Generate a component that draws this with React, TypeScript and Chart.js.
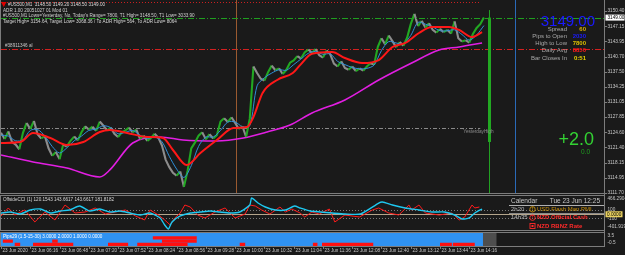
import React, { useEffect, useRef } from "react";
import { Chart, registerables } from "chart.js";

Chart.register(...registerables);

// ---------------- data ----------------
// time axis: 1 unit = one M1 bar, bar 0 = 23 Jun 05:44
const X_MAX = 659.3;
const timeTickBars = [0, 32, 64, 96, 128, 160, 192, 224, 256, 288, 320, 352, 384, 416, 448, 480, 512];
const timeLabels = [
  "23 Jun 2020", "23 Jun 06:16", "23 Jun 06:48", "23 Jun 07:20", "23 Jun 07:52", "23 Jun 08:24",
  "23 Jun 08:56", "23 Jun 09:28", "23 Jun 10:00", "23 Jun 10:32", "23 Jun 11:04", "23 Jun 11:36",
  "23 Jun 12:08", "23 Jun 12:40", "23 Jun 13:12", "23 Jun 13:44", "23 Jun 14:16",
];

// price closes, one value every 4 bars
const SAMPLE_STEP = 4;
const closePrices = [
  3124.5, 3123.2, 3124.8, 3122.6, 3122.0, 3121.0, 3124.5, 3126.6, 3125.3, 3127.0,
  3124.2, 3123.3, 3123.8, 3121.2, 3119.6, 3120.4, 3118.9, 3122.0, 3121.6, 3122.8,
  3123.7, 3122.9, 3124.6, 3125.9, 3125.2, 3125.8, 3124.9, 3126.9, 3126.0, 3125.0,
  3125.6, 3124.3, 3123.6, 3124.6, 3125.0, 3125.6, 3124.6, 3125.2, 3123.2, 3123.9,
  3122.8, 3123.4, 3124.3, 3123.5, 3121.8, 3118.8, 3117.2, 3116.0, 3115.4, 3116.3,
  3113.0, 3116.4, 3121.2, 3122.4, 3123.9, 3124.6, 3123.1, 3124.2, 3123.3, 3124.0,
  3126.9, 3127.6, 3126.8, 3127.8, 3126.6, 3125.3, 3125.9, 3123.6, 3127.5, 3138.6,
  3137.2, 3136.0, 3135.6, 3137.4, 3138.8, 3137.8, 3138.2, 3137.0, 3137.9, 3139.4,
  3139.9, 3140.8, 3140.3, 3141.6, 3142.2, 3141.5, 3142.3, 3141.0, 3140.5, 3142.0,
  3141.2, 3139.2, 3138.6, 3139.7, 3138.3, 3137.9, 3138.6, 3137.6, 3138.2, 3137.7,
  3138.6, 3139.3, 3139.0, 3142.8, 3144.6, 3143.3, 3145.2, 3144.0, 3142.7, 3143.8,
  3143.0, 3144.7, 3147.6, 3149.8, 3147.2, 3148.3, 3146.9, 3147.8, 3146.4, 3145.8,
  3146.6, 3145.9, 3146.4, 3145.6, 3148.2, 3144.6, 3143.9, 3144.2, 3143.7, 3145.5,
  3146.8, 3147.6, 3149.0,
];

// fast MA (blue), one value every 8 bars
const FAST_STEP = 8;
const fastMA = [
  3124.0, 3123.8, 3122.8, 3123.0, 3125.0, 3125.2, 3123.8, 3121.6, 3120.2, 3121.3,
  3122.8, 3123.8, 3125.0, 3125.3, 3126.0, 3125.6, 3124.3, 3124.6, 3125.0, 3124.0,
  3123.3, 3123.6, 3122.6, 3119.5, 3116.8, 3115.0, 3117.5, 3121.6, 3123.6, 3123.6,
  3125.0, 3126.8, 3126.8, 3125.8, 3126.0, 3134.5, 3136.2, 3137.2, 3137.9, 3137.8,
  3139.0, 3140.2, 3141.4, 3141.8, 3141.2, 3141.3, 3139.7, 3139.0, 3138.4, 3138.1,
  3138.2, 3138.9, 3142.0, 3143.9, 3143.6, 3143.4, 3145.2, 3148.0, 3147.6, 3147.0,
  3146.2, 3146.2, 3146.4, 3145.4, 3144.2, 3145.3, 3147.3,
];

// slow MA (red)
const slowMABars = [0, 21, 35, 54, 72, 90, 108, 119, 138, 160, 177, 188, 203, 218, 236, 254, 269, 276, 286, 302,
  319, 327, 340, 362, 376, 395, 413, 428, 442, 457, 471, 490, 501, 515, 526];
const slowMA = [3122.34, 3122.55, 3124.46, 3123.40, 3121.91, 3122.55, 3124.67, 3125.10, 3124.46, 3123.61,
  3123.40, 3120.85, 3117.66, 3120.21, 3122.97, 3125.52, 3125.74, 3127.86, 3132.97, 3135.73,
  3137.22, 3138.90, 3141.30, 3141.68, 3140.41, 3139.34, 3139.98, 3142.75, 3143.60, 3145.72,
  3147.00, 3147.00, 3146.36, 3144.87, 3145.93];

// long MA (magenta)
const longMABars = [0, 35, 72, 108, 119, 144, 174, 199, 236, 265, 291, 316, 340, 376, 413, 449, 479, 501, 526];
const longMA = [3119.79, 3118.30, 3117.02, 3115.11, 3116.60, 3122.34, 3123.61, 3122.97, 3122.76, 3123.40,
  3124.67, 3126.16, 3128.71, 3131.48, 3135.73, 3139.34, 3142.11, 3142.75, 3143.60];

const priceTicks = [3150.40, 3147.15, 3143.95, 3140.70, 3137.50, 3134.25, 3131.05, 3127.85, 3124.60,
  3121.40, 3118.15, 3114.95, 3111.70];
const PRICE_MIN = 3111.70;
const PRICE_MAX = 3152.74;
const currentPrice = 3149.00;
const levelTargetTop = 3152.35;
const levelRed = 3142.32;
const yesterdayHigh = 3125.52;
const levelsEndBar = 524;
const sessionSepBar = 257;
const nowLineBar = 562;
const dayCandleBar = 534;
const dayOpen = 3122.55;
const dayClose = 3149.00;
const dayHigh = 3150.60;
const dayLow = 3100.0;

const headerLines = [
  "#US500,M1  3148.50 3149.20 3148.50 3149.00",
  "ADR 1.00 20051027 01 Mod 01",
  "#US500,M1 Lows=Yesterday, No, Today's Range= 7800, T1 High= 3148.50, T1 Low= 3033.90",
  "Target High= 3154.64, Target Low= 3068.36 / To ADR High= 564, To ADR Low= 8064",
];
const objectLabel = "#38911346 al";
const bigPrice = "3149.00";
const infoLabels = ["Spread", "Pips to Open", "High to Low", "Daily Avg", "Bar Closes In"];
const infoValues = ["60", "2030", "7800", "8850", "0:51"];
const changeBig = "+2.0";
const changeSmall = "0.0";

// CCI sub window
const CCI_MIN = -401.9194;
const CCI_MAX = 466.2904;
const cciLevels = [100, 0, -100];
const cciTitle = "OffsideCCI (1) 120.1543 143.6617 143.6617 181.8182";
const cciCyanBars = [0, 10, 21, 32, 43, 54, 65, 75, 86, 97, 108, 119, 130, 141, 152, 163, 174, 179, 183, 187,
  196, 207, 218, 229, 239, 250, 261, 272, 274, 281, 289, 300, 311, 321, 327, 338, 349, 362, 376, 393,
  413, 417, 428, 442, 457, 471, 485, 496, 504, 512, 518, 526];
const cciCyan = [32, 58, 7, 109, 134, 32, 83, 109, 211, 83, 134, 58, 83, 32, -19, 32, -95, -274, -376, -197,
  -44, 32, 58, 83, 58, 32, 58, 236, 415, 287, 185, 109, 109, 211, 160, 83, 58, 32, 7, 7,
  287, 313, 236, 160, 109, 58, 58, -19, -121, -95, 32, 134];
const cciRedBars = [0, 8, 15, 26, 37, 48, 59, 70, 81, 92, 103, 114, 125, 136, 147, 157, 163, 172, 179, 185,
  190, 196, 201, 207, 215, 223, 234, 245, 256, 267, 272, 278, 285, 294, 305, 311, 318, 327, 332, 340,
  348, 359, 365, 376, 392, 406, 413, 424, 435, 446, 449, 457, 464, 479, 493, 501, 507, 515, 518, 523];
const cciRed = [-44, 160, -19, 109, -197, 58, -146, 236, 32, 58, 160, 7, 58, 109, -44, -146, 109, -19, -146, -274,
  -95, 32, 236, 185, -19, -95, 58, 160, -95, 7, 236, 211, 109, 7, 185, 58, 134, 32, -70, 58,
  7, 134, -197, -19, -70, 109, 160, 32, -19, 236, 109, 236, 32, -19, 32, -146, -70, 236, 160, 185];
const cciAxisLabels = ["466.2904", "100", "-100", "-401.9194"];
const cciCurrentLabel = "0.0000";

const calendarTitle = "Calendar";
const calendarNow = "Tue 23 Jun 12:25";
const calendarTimes = ["2h20", "14h35", ""];
const calendarEvents = ["USD Flash Man PMI", "NZD Official Cash", "NZD RBNZ Rate"];

// Pips sub window: 4 signal rows (3,2,1,0); blue body with red segments [fromBar, toBar]
const pipsTitle = "Pips29 (1.5-15-30) 3.0000 2.0000 1.0000 0.0000";
const pipsAxisLabels = ["3.5", "-0.5"];
const pipsEndBar = 527;
const pipsBoxEndBar = 542;
const pipsRow2 = [[166, 214]];
const pipsRow1 = [[2, 13], [56, 62], [176, 214]];
const pipsRow0 = [[15, 21], [35, 79], [117, 139], [149, 204], [261, 267], [341, 346], [351, 407], [480, 493], [494, 518]];

// ---------------- drawing helpers ----------------
const BG = "#1a1a1a";
const BORDER = "#7c7c7c";
const AXIS_TEXT = "#c8c8c8";
const FONT = '"Liberation Sans", Arial, sans-serif';
const f = (px: number, w = "normal") => `${w} ${px}px ${FONT}`;
const crisp = (v: number) => Math.round(v) + 0.5;

function hLine(ctx: any, y: number, x0: number, x1: number, color: string, dash: number[], width = 1) {
  ctx.save();
  ctx.strokeStyle = color;
  ctx.lineWidth = width;
  ctx.setLineDash(dash);
  ctx.beginPath();
  ctx.moveTo(x0, crisp(y));
  ctx.lineTo(x1, crisp(y));
  ctx.stroke();
  ctx.restore();
}
function vLine(ctx: any, x: number, y0: number, y1: number, color: string, width = 1) {
  ctx.save();
  ctx.strokeStyle = color;
  ctx.lineWidth = width;
  ctx.beginPath();
  ctx.moveTo(crisp(x), y0);
  ctx.lineTo(crisp(x), y1);
  ctx.stroke();
  ctx.restore();
}
function txt(ctx: any, s: string, x: number, y: number, color: string, font: string, align = "left", baseline = "middle") {
  ctx.save();
  ctx.fillStyle = color;
  ctx.font = font;
  ctx.textAlign = align;
  ctx.textBaseline = baseline;
  ctx.fillText(s, x, y);
  ctx.restore();
}

const bgPlugin = {
  id: "bg",
  beforeDraw(chart: any) {
    const { ctx, width, height } = chart;
    ctx.save();
    ctx.fillStyle = BG;
    ctx.fillRect(0, 0, width, height);
    ctx.restore();
  },
};

const xScale = { type: "linear", min: 0, max: X_MAX, display: false };
const baseOptions = {
  animation: false,
  responsive: false,
  maintainAspectRatio: false,
  events: [],
  plugins: { legend: { display: false }, tooltip: { enabled: false } },
};

function segmentsToPoints(segs: number[][], row: number) {
  const pts: any[] = [];
  segs.forEach((s, i) => {
    if (i > 0) pts.push({ x: (segs[i - 1][1] + s[0]) / 2, y: null });
    pts.push({ x: s[0], y: row });
    pts.push({ x: s[1], y: row });
  });
  return pts;
}

// ---------------- main window ----------------
const mainPlugin = {
  id: "mainDeco",
  beforeDatasetsDraw(chart: any) {
    const { ctx, chartArea: a, scales } = chart;
    const x = scales.x, y = scales.y;
    ctx.save();
    ctx.beginPath();
    ctx.rect(a.left, a.top, a.right - a.left, a.bottom - a.top);
    ctx.clip();
    const endX = x.getPixelForValue(levelsEndBar);
    hLine(ctx, y.getPixelForValue(levelTargetTop), a.left, endX, "#c82020", [1, 2]);
    hLine(ctx, y.getPixelForValue(levelRed), a.left, a.right, "#d42020", [6, 2, 1, 2]);
    hLine(ctx, y.getPixelForValue(yesterdayHigh), a.left, endX, "#8a8a8a", [4, 2, 1, 2]);
    vLine(ctx, x.getPixelForValue(sessionSepBar), a.top, a.bottom, "#9a5a30");
    vLine(ctx, x.getPixelForValue(nowLineBar), a.top, a.bottom, "#2a6ab8");
    // daily candle
    const cx = x.getPixelForValue(dayCandleBar);
    vLine(ctx, cx, y.getPixelForValue(dayHigh), y.getPixelForValue(dayLow), "#22a022");
    ctx.fillStyle = "#22a822";
    const top = y.getPixelForValue(dayClose);
    ctx.fillRect(Math.round(cx) - 1, top, 3, y.getPixelForValue(dayOpen) - top);
    ctx.restore();
  },
  afterDatasetsDraw(chart: any) {
    const { ctx, chartArea: a, scales } = chart;
    hLine(ctx, scales.y.getPixelForValue(currentPrice), a.left, a.right, "#1f9f1f", [6, 2, 1, 2]);
  },
  afterDraw(chart: any) {
    const { ctx, chartArea: a, scales } = chart;
    const x = scales.x, y = scales.y;
    // borders
    vLine(ctx, 0, 0, a.bottom + 1, BORDER);
    vLine(ctx, a.right, 0, chart.height, BORDER);
    hLine(ctx, a.bottom, 0, a.right, BORDER, []);
    // price axis
    priceTicks.forEach((t) => {
      const py = y.getPixelForValue(t);
      hLine(ctx, py, a.right, a.right + 3, BORDER, []);
      txt(ctx, t.toFixed(2), a.right + 3.5, py, AXIS_TEXT, f(4.7));
    });
    const cp = y.getPixelForValue(currentPrice);
    ctx.fillStyle = "#ffffff";
    ctx.fillRect(a.right + 1.5, cp - 3, 19, 6);
    txt(ctx, currentPrice.toFixed(2), a.right + 3.5, cp, "#000000", f(4.7));
    // header lines
    ctx.fillStyle = "#e00000";
    ctx.beginPath();
    ctx.moveTo(1, 2);
    ctx.lineTo(6.5, 2);
    ctx.lineTo(3.75, 7);
    ctx.closePath();
    ctx.fill();
    txt(ctx, headerLines[0], 8, 5, "#d8d8d8", f(4.6));
    txt(ctx, headerLines[1], 3, 10.5, "#d0d0d0", f(4.6));
    txt(ctx, headerLines[2], 3, 16, "#d0d0d0", f(4.6));
    txt(ctx, headerLines[3], 3, 21.5, "#d8d8d8", f(4.6));
    txt(ctx, objectLabel, 5, 46, "#c8c8c8", f(4.6));
    txt(ctx, "YesterdayHigh", x.getPixelForValue(levelsEndBar) - 17, y.getPixelForValue(yesterdayHigh) + 4, "#8c8c8c", f(4.7));
    // info panel
    txt(ctx, bigPrice, 595, 26, "#1a1aff", f(15), "right", "alphabetic");
    const rowY = [29, 36.2, 43.4, 50.6, 58];
    const valColors = ["#d8b000", "#1a1aff", "#dcc000", "#ff1a1a", "#e8d400"];
    infoLabels.forEach((l, i) => {
      txt(ctx, l, 567, rowY[i], "#a8a8a8", f(6), "right");
      txt(ctx, infoValues[i], 586, rowY[i], valColors[i], f(6, "bold"), "right");
    });
    txt(ctx, changeBig, 594, 145, "#33d233", f(18), "right", "alphabetic");
    txt(ctx, changeSmall, 581, 152, "#1f9f1f", f(6.5));
  },
};

// ---------------- CCI window ----------------
const cciPlugin = {
  id: "cciDeco",
  beforeDatasetsDraw(chart: any) {
    const { ctx, chartArea: a, scales } = chart;
    const y = scales.y;
    hLine(ctx, y.getPixelForValue(cciLevels[0]), a.left, a.right, "#7a7a7a", [1, 2]);
    hLine(ctx, y.getPixelForValue(cciLevels[1]), a.left, a.right, "#b4a58c", []);
    hLine(ctx, y.getPixelForValue(cciLevels[2]), a.left, a.right, "#7a7a7a", [1, 2]);
  },
  afterDraw(chart: any) {
    const { ctx, chartArea: a, scales } = chart;
    const y = scales.y;
    hLine(ctx, 0, 0, a.right, BORDER, []);
    hLine(ctx, a.bottom, 0, a.right, BORDER, []);
    vLine(ctx, 0, 0, chart.height, BORDER);
    vLine(ctx, a.right, 0, chart.height, BORDER);
    txt(ctx, cciTitle, 3, 5, "#d8d8d8", f(4.6));
    // axis
    txt(ctx, cciAxisLabels[0], a.right + 3.5, 4, AXIS_TEXT, f(4.7));
    txt(ctx, cciAxisLabels[1], a.right + 3.5, y.getPixelForValue(100) - 1, AXIS_TEXT, f(4.7));
    txt(ctx, cciAxisLabels[2], a.right + 3.5, y.getPixelForValue(-100) + 1, AXIS_TEXT, f(4.7));
    txt(ctx, cciAxisLabels[3], a.right + 3.5, 32, AXIS_TEXT, f(4.7));
    const zy = y.getPixelForValue(0);
    ctx.fillStyle = "#e8d060";
    ctx.fillRect(a.right + 1.5, zy - 3, 17, 6);
    txt(ctx, cciCurrentLabel, a.right + 3, zy, "#000000", f(4.7));
    // calendar
    txt(ctx, calendarTitle, 511, 6, "#c8c8c8", f(6.5));
    txt(ctx, calendarNow, 600, 6, "#c8c8c8", f(6.5), "right");
    hLine(ctx, 10, 509, a.right, "#b0b0b0", []);
    hLine(ctx, 17.5, 509, a.right, "#8a8a8a", []);
    const rowY = [14.3, 22.7, 31];
    const evColors = ["#c8900a", "#ff2a2a", "#ff2a2a"];
    calendarEvents.forEach((e, i) => {
      if (calendarTimes[i]) txt(ctx, calendarTimes[i], 511, rowY[i], "#b8b8b8", f(6));
      ctx.save();
      ctx.strokeStyle = evColors[i];
      ctx.lineWidth = 0.9;
      if (i < 2) {
        ctx.beginPath();
        ctx.arc(532.5, rowY[i], 2.7, 0, Math.PI * 2);
        ctx.stroke();
        txt(ctx, "!", 532.5, rowY[i] + 0.3, evColors[i], f(4.5, "bold"), "center");
      } else {
        ctx.strokeRect(530, rowY[i] - 2.5, 5, 5);
        ctx.fillStyle = evColors[i];
        ctx.fillRect(531.5, rowY[i] - 1, 2, 2);
      }
      ctx.restore();
      txt(ctx, e, 537, rowY[i], evColors[i], f(6, i === 0 ? "normal" : "bold"));
    });
  },
};

// ---------------- Pips window + time axis ----------------
const pipsPlugin = {
  id: "pipsDeco",
  afterDraw(chart: any) {
    const { ctx, chartArea: a, scales } = chart;
    const x = scales.x;
    hLine(ctx, a.top - 1, 0, a.right, BORDER, []);
    hLine(ctx, a.bottom, 0, a.right, BORDER, []);
    vLine(ctx, 0, a.top - 1, a.bottom + 1, BORDER);
    vLine(ctx, a.right, 0, a.bottom + 1, BORDER);
    txt(ctx, pipsTitle, 3, a.top + 3.5, "#ffffff", f(4.6));
    txt(ctx, pipsAxisLabels[0], a.right + 3.5, a.top + 2.5, AXIS_TEXT, f(4.7));
    txt(ctx, pipsAxisLabels[1], a.right + 3.5, a.bottom - 3.5, AXIS_TEXT, f(4.7));
    timeTickBars.forEach((b, i) => {
      const px = x.getPixelForValue(b);
      vLine(ctx, px, a.bottom + 1, a.bottom + 3, BORDER);
      txt(ctx, timeLabels[i], Math.round(px) + 1.5, a.bottom + 4.8, AXIS_TEXT, f(4.6));
    });
  },
};

export default function App() {
  const mainRef = useRef<HTMLCanvasElement>(null);
  const cciRef = useRef<HTMLCanvasElement>(null);
  const pipsRef = useRef<HTMLCanvasElement>(null);

  useEffect(() => {
    const charts: Chart[] = [];
    const priceColorUp = "#22a822";
    const priceColorDown = "#8c8c8c";

    charts.push(
      new Chart(mainRef.current as HTMLCanvasElement, {
        type: "line",
        data: {
          datasets: [
            {
              data: slowMABars.map((b, i) => ({ x: b, y: slowMA[i] })),
              borderColor: "#ff1818",
              borderWidth: 2,
              pointRadius: 0,
              cubicInterpolationMode: "monotone",
            },
            {
              data: fastMA.map((v, i) => ({ x: i * FAST_STEP, y: v })),
              borderColor: "#2f8fd8",
              borderWidth: 1,
              pointRadius: 0,
              tension: 0.3,
            },
            {
              data: closePrices.map((v, i) => ({ x: i * SAMPLE_STEP, y: v })),
              borderColor: priceColorUp,
              borderWidth: 2.1,
              pointRadius: 0,
              tension: 0,
              segment: {
                borderColor: (c: any) => (c.p1.parsed.y >= c.p0.parsed.y ? priceColorUp : priceColorDown),
              },
            },
            {
              data: longMABars.map((b, i) => ({ x: b, y: longMA[i] })),
              borderColor: "#e21ee2",
              borderWidth: 1.6,
              pointRadius: 0,
              cubicInterpolationMode: "monotone",
            },
          ],
        },
        options: {
          ...baseOptions,
          layout: { padding: { left: 1, right: 21, top: 0, bottom: 2 } },
          scales: {
            x: xScale,
            y: { type: "linear", min: PRICE_MIN, max: PRICE_MAX, display: false },
          },
        } as any,
        plugins: [bgPlugin, mainPlugin],
      } as any)
    );

    charts.push(
      new Chart(cciRef.current as HTMLCanvasElement, {
        type: "line",
        data: {
          datasets: [
            {
              data: cciCyanBars.map((b, i) => ({ x: b, y: cciCyan[i] })),
              borderColor: "#1ec8f0",
              borderWidth: 1.4,
              pointRadius: 0,
              tension: 0.2,
            },
            {
              data: cciRedBars.map((b, i) => ({ x: b, y: cciRed[i] })),
              borderColor: "#ff1a1a",
              borderWidth: 1,
              pointRadius: 0,
              tension: 0,
            },
          ],
        },
        options: {
          ...baseOptions,
          layout: { padding: { left: 1, right: 21, top: 1, bottom: 1 } },
          scales: {
            x: xScale,
            y: { type: "linear", min: CCI_MIN, max: CCI_MAX, display: false },
          },
        } as any,
        plugins: [bgPlugin, cciPlugin],
      } as any)
    );

    const rowW = 13 / 4;
    const redRow = (segs: number[][], row: number) => ({
      data: segmentsToPoints(segs, row),
      borderColor: "#ff1010",
      borderWidth: rowW,
      borderCapStyle: "butt",
      pointRadius: 0,
      spanGaps: false,
      fill: false,
    });
    charts.push(
      new Chart(pipsRef.current as HTMLCanvasElement, {
        type: "line",
        data: {
          datasets: [
            redRow(pipsRow2, 2),
            redRow(pipsRow1, 1),
            redRow(pipsRow0, 0),
            {
              data: [{ x: pipsEndBar, y: 3.5 }, { x: pipsBoxEndBar, y: 3.5 }],
              borderWidth: 0,
              pointRadius: 0,
              backgroundColor: "#4e4e4e",
              fill: { value: -0.5 },
            },
            {
              data: [{ x: 0, y: 3.5 }, { x: pipsEndBar, y: 3.5 }],
              borderWidth: 0,
              pointRadius: 0,
              backgroundColor: "#2f92f2",
              fill: { value: -0.5 },
            },
          ],
        },
        options: {
          ...baseOptions,
          layout: { padding: { left: 1, right: 21, top: 2, bottom: 9 } },
          scales: {
            x: xScale,
            y: { type: "linear", min: -0.5, max: 3.5, display: false },
          },
        } as any,
        plugins: [bgPlugin, pipsPlugin],
      } as any)
    );

    return () => charts.forEach((c) => c.destroy());
  }, []);

  return (
    <div
      style={{
        position: "fixed",
        left: 0,
        top: 0,
        width: 625,
        height: 255,
        background: BG,
        overflow: "hidden",
      }}
    >
      <canvas ref={mainRef} width={625} height={195} style={{ position: "absolute", left: 0, top: 0 }} />
      <canvas ref={cciRef} width={625} height={36} style={{ position: "absolute", left: 0, top: 195 }} />
      <canvas ref={pipsRef} width={625} height={24} style={{ position: "absolute", left: 0, top: 231 }} />
    </div>
  );
}
